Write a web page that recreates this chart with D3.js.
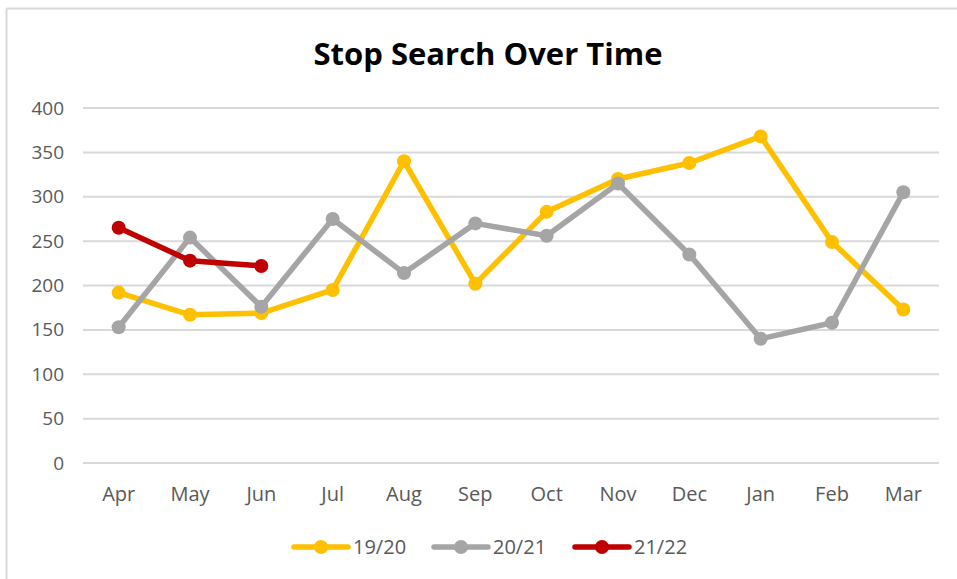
<!DOCTYPE html>
<html>
<head>
<meta charset="utf-8">
<script src="https://cdn.jsdelivr.net/npm/d3@7"></script>
<style>
body { margin: 0; background: #fff; }
text { font-family: "Open Sans", "Noto Sans", sans-serif; }
</style>
</head>
<body>
<svg id="chart" width="957" height="579"></svg>
<script>
var months = ["Apr","May","Jun","Jul","Aug","Sep","Oct","Nov","Dec","Jan","Feb","Mar"];
var s1920 = [192,167,169,195,340,202,283,320,338,368,249,173];
var s2021 = [153,254,176,275,214,270,256,315,235,140,158,305];
var s2122 = [265,228,222];
var yTicks = [0,50,100,150,200,250,300,350,400];
var names = ["19/20","20/21","21/22"];
var colors = ["#ffc000","#a5a5a5","#c00000"];

var series = [s1920, s2021, s2122];

var svg = d3.select("#chart");
var width = 957, height = 579;
var pLeft = 83, pRight = 939, pTop = 108, pBottom = 463;

// chart frame (only top + left edges show)
svg.append("line").attr("x1",6.5).attr("x2",width).attr("y1",8.5).attr("y2",8.5)
    .attr("stroke","#d9d9d9").attr("stroke-width",2);
svg.append("line").attr("x1",6.5).attr("x2",6.5).attr("y1",8.5).attr("y2",height)
    .attr("stroke","#d9d9d9").attr("stroke-width",2);

var x = d3.scaleBand().domain(months).range([pLeft,pRight]);
var y = d3.scaleLinear().domain([0,400]).range([pBottom,pTop]);

// gridlines
svg.append("g").selectAll("line").data(yTicks).enter().append("line")
    .attr("x1",pLeft).attr("x2",pRight)
    .attr("y1",function(d){return y(d);}).attr("y2",function(d){return y(d);})
    .attr("stroke","#d9d9d9").attr("stroke-width",2);

// y axis labels
var yAxis = d3.axisLeft(y).tickValues(yTicks).tickSize(0).tickPadding(19);
var gy = svg.append("g").attr("transform","translate("+pLeft+",0)").call(yAxis);
gy.select(".domain").remove();
gy.selectAll("text").attr("fill","#595959").style("font-size","19px");

// x axis labels
var xAxis = d3.axisBottom(x).tickSize(0).tickPadding(24);
var gx = svg.append("g").attr("transform","translate(0,"+pBottom+")").call(xAxis);
gx.select(".domain").remove();
gx.selectAll("text").attr("fill","#595959").style("font-size","20px");

var line = d3.line()
    .x(function(d,i){return x(months[i]) + x.bandwidth()/2;})
    .y(function(d){return y(d);});

series.forEach(function(s,k){
    var g = svg.append("g");
    g.append("path").datum(s).attr("d",line)
        .attr("fill","none").attr("stroke",colors[k]).attr("stroke-width",5.5)
        .attr("stroke-linejoin","round").attr("stroke-linecap","round");
    g.selectAll("circle").data(s).enter().append("circle")
        .attr("cx",function(d,i){return x(months[i]) + x.bandwidth()/2;})
        .attr("cy",function(d){return y(d);})
        .attr("r",7).attr("fill",colors[k]);
});

// title
svg.append("text").attr("x",488).attr("y",65).attr("text-anchor","middle")
    .style("font-size","30px").style("font-weight","bold").attr("fill","#000")
    .attr("textLength",349).attr("lengthAdjust","spacingAndGlyphs")
    .text("Stop Search Over Time");

// legend
var legX = [294, 434, 575];
names.forEach(function(n,k){
    var g = svg.append("g").attr("transform","translate("+legX[k]+",547)");
    g.append("line").attr("x1",0).attr("x2",54).attr("y1",0).attr("y2",0)
        .attr("stroke",colors[k]).attr("stroke-width",5.5).attr("stroke-linecap","round");
    g.append("circle").attr("cx",27).attr("cy",0).attr("r",7).attr("fill",colors[k]);
    g.append("text").attr("x",59).attr("y",7).attr("fill","#595959")
        .style("font-size","20px").text(n);
});
</script>
</body>
</html>
